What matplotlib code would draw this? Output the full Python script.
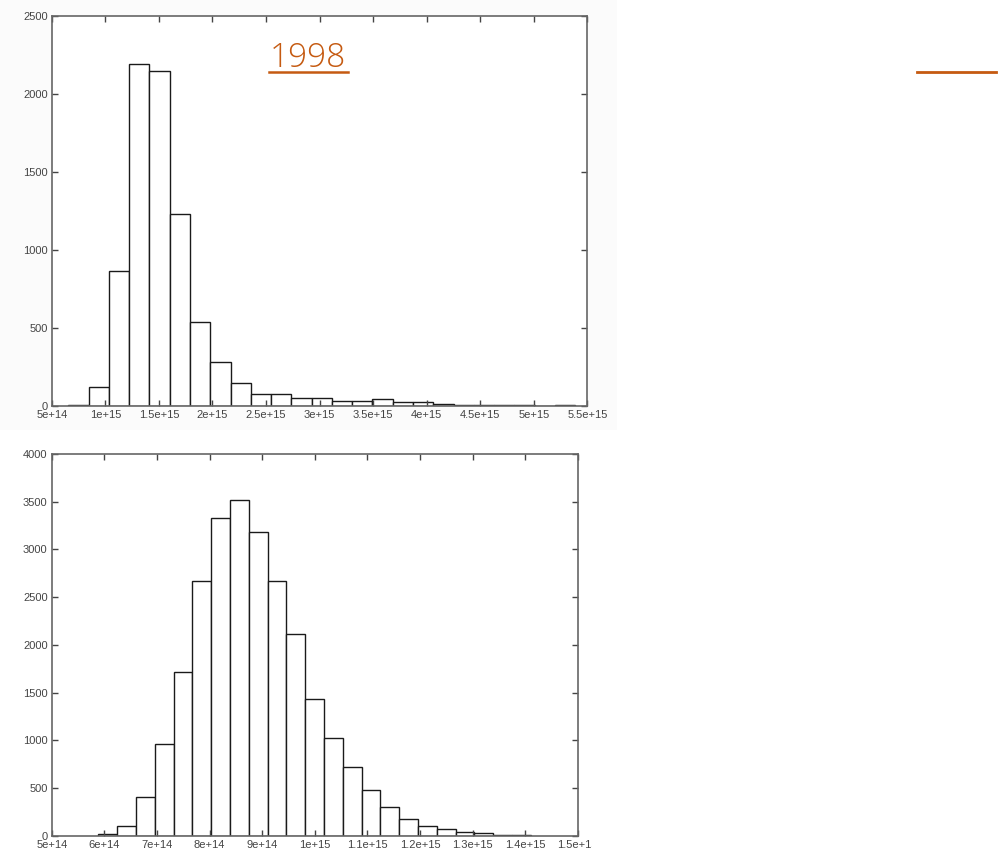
import numpy as np
import matplotlib.pyplot as plt
from matplotlib.lines import Line2D
from matplotlib.patches import Rectangle

plt.rcParams['font.family'] = ['Liberation Sans', 'DejaVu Sans']

# top histogram (1998)
top_start = 6.55e14
top_width = 1.8926e14
top_counts = [4, 124, 863, 2189, 2144, 1232, 538, 284, 149, 77, 77, 53, 53,
              34, 34, 43, 28, 26, 15, 9, 9, 3, 3, 0, 3]
top_xticks = [5e14, 1e15, 1.5e15, 2e15, 2.5e15, 3e15, 3.5e15, 4e15, 4.5e15, 5e15, 5.5e15]
top_xlabels = ["5e+14", "1e+15", "1.5e+15", "2e+15", "2.5e+15", "3e+15",
               "3.5e+15", "4e+15", "4.5e+15", "5e+15", "5.5e+15"]
top_yticks = [0, 500, 1000, 1500, 2000, 2500]

# bottom histogram
bot_start = 5.886e14
bot_width = 3.574e13
bot_counts = [18, 105, 409, 958, 1719, 2666, 3330, 3518, 3186, 2672, 2117, 1433,
              1027, 720, 476, 297, 171, 98, 67, 39, 25, 12, 10]
bot_xticks = [5e14, 6e14, 7e14, 8e14, 9e14, 1e15, 1.1e15, 1.2e15, 1.3e15, 1.4e15, 1.5e15]
bot_xlabels = ["5e+14", "6e+14", "7e+14", "8e+14", "9e+14", "1e+15",
               "1.1e+15", "1.2e+15", "1.3e+15", "1.4e+15", "1.5e+15"]
bot_yticks = [0, 500, 1000, 1500, 2000, 2500, 3000, 3500, 4000]

title = "1998"
orange = "#c55a11"

fig = plt.figure(figsize=(10.01, 8.57), dpi=100)

# faint backdrop of the pasted top picture
fig.add_artist(Rectangle((0, 1 - 430 / 857), 617 / 1001, 430 / 857,
                         transform=fig.transFigure, facecolor="#fbfbfb",
                         edgecolor="none", zorder=-5))


def draw_hist(ax, start, width, counts, xticks, xlabels, yticks):
    n = len(counts)
    lefts = start + width * np.arange(n)
    ax.bar(lefts, counts, width=width, align="edge", facecolor="white",
           edgecolor="#1a1a1a", linewidth=1.0)
    ax.set_xlim(xticks[0], xticks[-1])
    ax.set_ylim(yticks[0], yticks[-1])
    ax.set_xticks(xticks)
    ax.set_xticklabels(xlabels)
    ax.set_yticks(yticks)
    ax.tick_params(direction="in", length=4, width=1, top=True, right=True,
                   labelsize=8, labelcolor="#444444", color="#444444", pad=3)
    for s in ax.spines.values():
        s.set_color("#666666")
        s.set_linewidth(1.2)
    ax.set_facecolor("white")


ax1 = fig.add_axes([0.0517, 0.5263, 0.535, 0.4554])
draw_hist(ax1, top_start, top_width, top_counts, top_xticks, top_xlabels, top_yticks)

ax2 = fig.add_axes([0.0517, 0.02485, 0.5255, 0.4454])
draw_hist(ax2, bot_start, bot_width, bot_counts, bot_xticks, bot_xlabels, bot_yticks)

# slide title and underline
fig.text(308 / 1001, 1 - 58 / 857, title, color=orange, fontsize=24,
         family=["Open Sans", "DejaVu Sans"], weight="light",
         ha="center", va="center")
fig.add_artist(Line2D([269 / 1001, 348 / 1001], [1 - 72 / 857, 1 - 72 / 857],
                      transform=fig.transFigure, color=orange, linewidth=1.8))
fig.add_artist(Line2D([917 / 1001, 996 / 1001], [1 - 72 / 857, 1 - 72 / 857],
                      transform=fig.transFigure, color=orange, linewidth=2))

# the source picture is cut off at the right of the bottom axis labels
fig.add_artist(Rectangle((592 / 1001, 0), 60 / 1001, 20 / 857,
                         transform=fig.transFigure, facecolor="white",
                         edgecolor="none", zorder=10))

fig.savefig("out.png", dpi=100)
